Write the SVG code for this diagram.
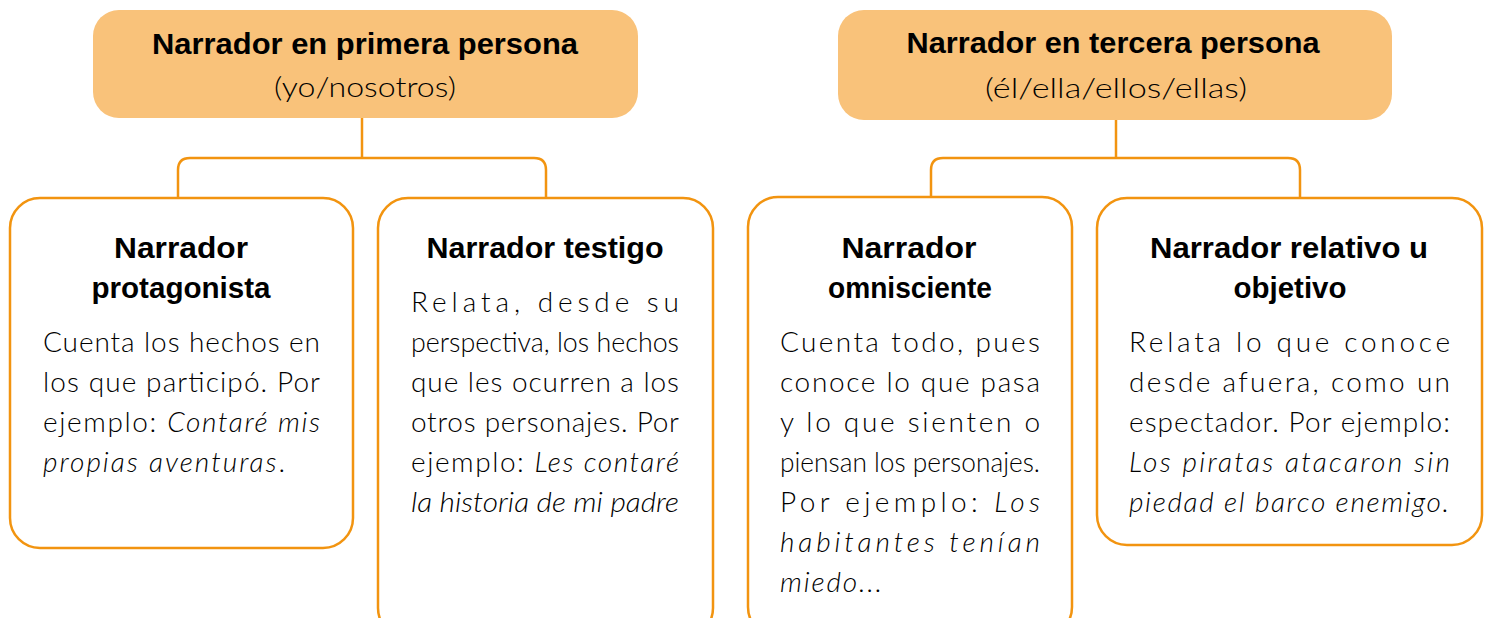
<svg xmlns="http://www.w3.org/2000/svg" width="1487" height="618" viewBox="0 0 1487 618">
<style>
.hdr{fill:#F9C27A;}
.box{fill:#FFFFFF;stroke:#F29410;stroke-width:2.5;}
.con{fill:none;stroke:#F29410;stroke-width:2.5;}
.t{font-family:"Liberation Sans",Arial,sans-serif;font-weight:bold;font-size:29px;fill:#000;text-anchor:middle;}
.s{font-family:Lato,"Liberation Sans",Arial,sans-serif;font-weight:300;font-size:28px;fill:#000;text-anchor:middle;}
.b{font-family:Lato,"Liberation Sans",Arial,sans-serif;font-weight:300;font-size:28px;fill:#000;}
.i{font-style:italic;}
</style>
<rect width="1487" height="618" fill="#FFFFFF"/>
<g id="connectors">
<path class="con" d="M362,118 V158"/>
<path class="con" d="M178,198 V170 Q178,158 190,158 H534 Q546,158 546,170 V198"/>
<path class="con" d="M1116,120 V158"/>
<path class="con" d="M931,198 V170 Q931,158 943,158 H1288 Q1300,158 1300,170 V198"/>
</g>
<g id="primera">
<rect class="hdr" x="93" y="10" width="545" height="108" rx="26"/>
<text class="t" x="365" y="54" textLength="426" lengthAdjust="spacingAndGlyphs">Narrador en primera persona</text>
<text class="s" x="365" y="97" textLength="182" lengthAdjust="spacingAndGlyphs">(yo/nosotros)</text>
</g>
<g id="tercera">
<rect class="hdr" x="838" y="10" width="554" height="110" rx="26"/>
<text class="t" x="1113" y="53" textLength="413" lengthAdjust="spacingAndGlyphs">Narrador en tercera persona</text>
<text class="s" x="1116" y="98" textLength="262" lengthAdjust="spacingAndGlyphs">(él/ella/ellos/ellas)</text>
</g>
<g id="protagonista">
<rect class="box" x="10" y="198" width="343" height="350" rx="30"/>
<text class="t" x="181" y="258" textLength="134" lengthAdjust="spacingAndGlyphs">Narrador</text>
<text class="t" x="181" y="298" textLength="179" lengthAdjust="spacingAndGlyphs">protagonista</text>
<text class="b" x="43" y="352" textLength="277" lengthAdjust="spacing">Cuenta los hechos en</text>
<text class="b" x="43" y="392" textLength="277" lengthAdjust="spacing">los que participó. Por</text>
<text class="b" x="43" y="432" textLength="277" lengthAdjust="spacing">ejemplo: <tspan class="i">Contaré mis</tspan></text>
<text class="b" x="43" y="472" textLength="242" lengthAdjust="spacing"><tspan class="i">propias aventuras</tspan>.</text>
</g>
<g id="testigo">
<rect class="box" x="378" y="198" width="335" height="440" rx="30"/>
<text class="t" x="545" y="258" textLength="237" lengthAdjust="spacingAndGlyphs">Narrador testigo</text>
<text class="b" x="411" y="312" textLength="268" lengthAdjust="spacing">Relata, desde su</text>
<text class="b" x="411" y="352" textLength="268" lengthAdjust="spacingAndGlyphs">perspectiva, los hechos</text>
<text class="b" x="411" y="392" textLength="268" lengthAdjust="spacing">que les ocurren a los</text>
<text class="b" x="411" y="432" textLength="268" lengthAdjust="spacing">otros personajes. Por</text>
<text class="b" x="411" y="472" textLength="268" lengthAdjust="spacing">ejemplo: <tspan class="i">Les contaré</tspan></text>
<text class="b i" x="411" y="512" textLength="268" lengthAdjust="spacingAndGlyphs">la historia de mi padre</text>
</g>
<g id="omnisciente">
<rect class="box" x="748" y="197" width="324" height="440" rx="30"/>
<text class="t" x="909" y="258" textLength="135" lengthAdjust="spacingAndGlyphs">Narrador</text>
<text class="t" x="910" y="298" textLength="164" lengthAdjust="spacingAndGlyphs">omnisciente</text>
<text class="b" x="780" y="352" textLength="260" lengthAdjust="spacing">Cuenta todo, pues</text>
<text class="b" x="780" y="392" textLength="260" lengthAdjust="spacing">conoce lo que pasa</text>
<text class="b" x="780" y="432" textLength="260" lengthAdjust="spacing">y lo que sienten o</text>
<text class="b" x="780" y="472" textLength="260" lengthAdjust="spacingAndGlyphs">piensan los personajes.</text>
<text class="b" x="780" y="512" textLength="260" lengthAdjust="spacing">Por ejemplo: <tspan class="i">Los</tspan></text>
<text class="b i" x="780" y="552" textLength="260" lengthAdjust="spacing">habitantes tenían</text>
<text class="b i" x="780" y="592" textLength="102" lengthAdjust="spacing">miedo...</text>
</g>
<g id="relativo">
<rect class="box" x="1097" y="198" width="385" height="347" rx="30"/>
<text class="t" x="1289" y="258" textLength="278" lengthAdjust="spacingAndGlyphs">Narrador relativo u</text>
<text class="t" x="1290" y="298" textLength="113" lengthAdjust="spacingAndGlyphs">objetivo</text>
<text class="b" x="1129" y="352" textLength="321" lengthAdjust="spacing">Relata lo que conoce</text>
<text class="b" x="1129" y="392" textLength="321" lengthAdjust="spacing">desde afuera, como un</text>
<text class="b" x="1129" y="432" textLength="321" lengthAdjust="spacing">espectador. Por ejemplo:</text>
<text class="b i" x="1129" y="472" textLength="321" lengthAdjust="spacing">Los piratas atacaron sin</text>
<text class="b i" x="1129" y="512" textLength="320" lengthAdjust="spacing">piedad el barco enemigo.</text>
</g>
</svg>
